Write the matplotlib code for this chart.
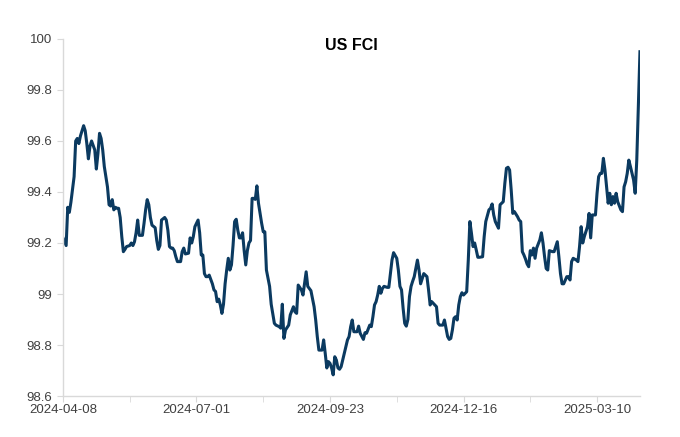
import pandas as pd
import matplotlib
matplotlib.use("Agg")
import matplotlib.pyplot as plt
import matplotlib.dates as mdates
from matplotlib.ticker import FuncFormatter

# ========= datos =========
start = "2024-04-08"
title = "US FCI"

day_offset = [
    0, 2, 3, 4, 5, 7, 8, 9, 10, 11, 13, 14, 15, 16, 17, 18, 20, 21, 22, 23,
    24, 25, 26, 28, 29, 30, 31, 32, 33, 34, 35, 36, 37, 38, 39, 40, 42, 43, 44, 45,
    46, 47, 48, 50, 51, 52, 53, 54, 55, 56, 58, 59, 60, 61, 62, 64, 65, 66, 67, 68,
    69, 70, 71, 72, 74, 75, 76, 77, 79, 80, 81, 82, 83, 85, 86, 87, 88, 89, 90, 91,
    92, 94, 95, 96, 97, 98, 99, 100, 101, 102, 103, 104, 105, 106, 107, 108, 109, 110, 111, 112,
    113, 114, 115, 116, 117, 118, 119, 120, 121, 122, 123, 125, 126, 127, 128, 130, 131, 133, 134, 136,
    137, 138, 139, 140, 142, 143, 145, 146, 147, 148, 150, 151, 152, 153, 154, 156, 158, 159, 160, 161,
    163, 164, 165, 166, 167, 168, 169, 170, 171, 172, 173, 174, 175, 176, 177, 178, 179, 180, 181, 182,
    183, 185, 186, 187, 189, 190, 191, 193, 194, 195, 196, 197, 198, 199, 200, 201, 202, 204, 205, 206,
    207, 208, 210, 211, 212, 213, 214, 215, 216, 217, 218, 219, 220, 221, 223, 224, 225, 227, 228, 229,
    230, 231, 232, 234, 235, 236, 237, 239, 240, 241, 242, 243, 244, 245, 246, 247, 248, 249, 250, 251,
    252, 254, 255, 256, 257, 258, 259, 260, 261, 262, 264, 265, 266, 268, 269, 270, 271, 272, 274, 275,
    276, 277, 278, 279, 280, 281, 282, 283, 284, 286, 287, 288, 289, 290, 291, 292, 293, 294, 295, 296,
    297, 298, 300, 301, 302, 303, 304, 305, 306, 308, 309, 311, 312, 313, 314, 315, 317, 318, 319, 320,
    321, 323, 324, 325, 326, 327, 328, 330, 331, 332, 333, 335, 336, 337, 338, 339, 340, 341, 342, 343,
    344, 345, 346, 347, 348, 349, 351, 352, 353, 354, 355, 356, 357, 358, 359, 360, 361, 362, 363,
]

fci = [
    99.22, 99.19, 99.34, 99.32, 99.36, 99.46, 99.60, 99.61, 99.59, 99.62, 99.66, 99.64, 99.59, 99.53, 99.58, 99.60, 99.565, 99.49, 99.55, 99.63,
    99.61, 99.565, 99.50, 99.42, 99.35, 99.345, 99.37, 99.33, 99.34, 99.336, 99.336, 99.30, 99.225, 99.166, 99.175, 99.186, 99.19, 99.20, 99.19, 99.205,
    99.24, 99.29, 99.23, 99.23, 99.277, 99.33, 99.37, 99.35, 99.30, 99.27, 99.26, 99.21, 99.175, 99.19, 99.29, 99.30, 99.29, 99.25, 99.186, 99.18,
    99.18, 99.17, 99.146, 99.127, 99.127, 99.166, 99.18, 99.157, 99.16, 99.22, 99.20, 99.225, 99.264, 99.29, 99.24, 99.153, 99.153, 99.08, 99.068, 99.068,
    99.074, 99.04, 99.016, 99.01, 98.97, 98.98, 98.957, 98.924, 98.96, 99.04, 99.094, 99.14, 99.094, 99.114, 99.19, 99.284, 99.293, 99.25, 99.22, 99.22,
    99.24, 99.17, 99.114, 99.17, 99.20, 99.21, 99.375, 99.375, 99.371, 99.424, 99.356, 99.277, 99.244, 99.244, 99.094, 99.03, 98.96, 98.885, 98.878, 98.872,
    98.866, 98.96, 98.826, 98.859, 98.878, 98.918, 98.95, 98.93, 98.924, 99.035, 99.016, 98.996, 99.04, 99.087, 99.03, 99.013, 98.95, 98.898, 98.833, 98.78,
    98.78, 98.82, 98.767, 98.71, 98.735, 98.728, 98.71, 98.683, 98.754, 98.741, 98.71, 98.705, 98.715, 98.741, 98.767, 98.793, 98.82, 98.833, 98.872, 98.898,
    98.852, 98.852, 98.874, 98.846, 98.822, 98.848, 98.846, 98.878, 98.872, 98.911, 98.957, 98.97, 98.996, 99.03, 99.003, 99.022, 99.03, 99.026, 99.026, 99.08,
    99.133, 99.162, 99.14, 99.094, 99.03, 99.016, 98.944, 98.885, 98.874, 98.90, 98.99, 99.03, 99.05, 99.068, 99.133, 99.094, 99.04, 99.08, 99.074, 99.068,
    99.016, 98.957, 98.97, 98.957, 98.95, 98.885, 98.878, 98.878, 98.898, 98.866, 98.833, 98.822, 98.826, 98.859, 98.905, 98.911, 98.898, 98.957, 98.99, 99.005,
    98.996, 99.009, 99.133, 99.284, 99.238, 99.186, 99.20, 99.173, 99.144, 99.144, 99.146, 99.225, 99.284, 99.33, 99.336, 99.353, 99.31, 99.284, 99.258, 99.35,
    99.356, 99.362, 99.434, 99.493, 99.497, 99.486, 99.408, 99.316, 99.323, 99.303, 99.29, 99.284, 99.166, 99.153, 99.137, 99.118, 99.107, 99.17, 99.153, 99.18,
    99.14, 99.18, 99.212, 99.24, 99.20, 99.146, 99.10, 99.094, 99.17, 99.166, 99.166, 99.205, 99.146, 99.08, 99.04, 99.04, 99.068, 99.068, 99.055, 99.127,
    99.14, 99.133, 99.127, 99.186, 99.264, 99.20, 99.225, 99.264, 99.316, 99.22, 99.31, 99.31, 99.395, 99.46, 99.473, 99.473, 99.532, 99.486, 99.42, 99.356,
    99.395, 99.35, 99.382, 99.356, 99.395, 99.362, 99.33, 99.323, 99.42, 99.44, 99.473, 99.525, 99.50, 99.473, 99.447, 99.395, 99.525, 99.735, 99.95,
]

y_ticks = [98.6, 98.8, 99.0, 99.2, 99.4, 99.6, 99.8, 100.0]

dates = pd.Timestamp(start) + pd.to_timedelta(day_offset, unit="D")

# ========= grafico =========
plt.rcParams["font.family"] = ["Liberation Sans", "DejaVu Sans"]
fig = plt.figure(figsize=(6.8, 4.37), dpi=100)
ax = fig.add_axes([0.0926, 0.0938, 0.8485, 0.817])

ax.plot(dates, fci, color="#0b3a60", lw=2.2, solid_joinstyle="round")

ax.set_ylim(98.6, 100.0)
ax.set_yticks(y_ticks)
ax.yaxis.set_major_formatter(FuncFormatter(lambda v, p: f"{v:g}"))
ax.set_xlim(dates[0], dates[-1])

major = pd.date_range(start, dates[-1], freq="84D")
minor = pd.date_range(start, dates[-1], freq="42D")
ax.set_xticks(major)
ax.set_xticks([d for d in minor if d not in major], minor=True)
ax.xaxis.set_major_formatter(mdates.DateFormatter("%Y-%m-%d"))

for s in ["top", "right"]:
    ax.spines[s].set_visible(False)
for s in ["left", "bottom"]:
    ax.spines[s].set_color("#d9d9d9")
    ax.spines[s].set_linewidth(1.0)

ax.tick_params(axis="both", which="both", color="#d9d9d9", labelcolor="#404040",
               labelsize=9.5, length=4)
ax.tick_params(axis="x", pad=2)

ax.text(0.5, 0.981, title, transform=ax.transAxes, ha="center", va="center",
        fontsize=11.5, fontweight="bold", color="black")

fig.savefig("out.png", dpi=100)
